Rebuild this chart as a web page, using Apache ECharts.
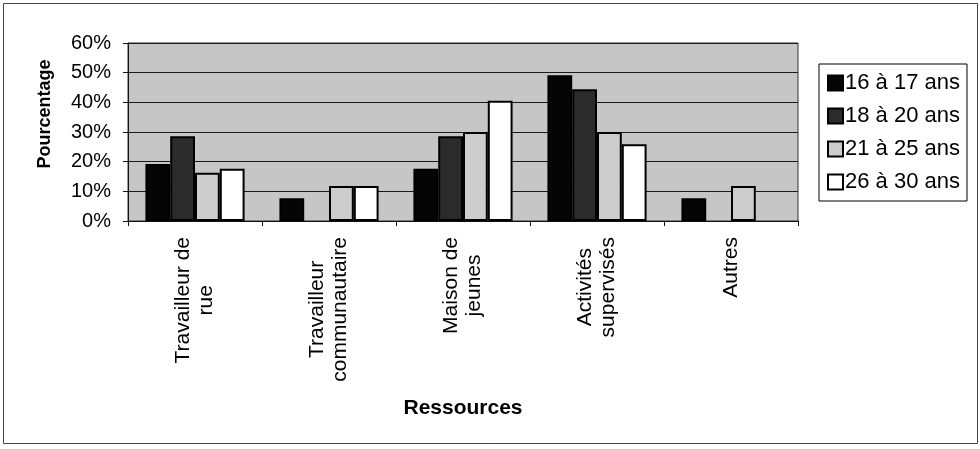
<!DOCTYPE html>
<html>
<head>
<meta charset="utf-8">
<title>Ressources</title>
<script src="https://cdn.jsdelivr.net/npm/echarts@6/dist/echarts.min.js"></script>
<style>
  html, body { margin: 0; padding: 0; background: #fff; }
  #chart { width: 980px; height: 449px; }
</style>
</head>
<body>
<div id="chart"></div>
<script>
  // categories (the \n is where the label wraps)
  var categories = ['Travailleur de\nrue', 'Travailleur\ncommunautaire', 'Maison de\njeunes', 'Activités\nsupervisés', 'Autres'];
  var seriesNames = ['16 à 17 ans', '18 à 20 ans', '21 à 25 ans', '26 à 30 ans'];
  // percentages
  var age16_17 = [19.2, 7.7, 17.6, 49.1, 7.7];
  var age18_20 = [28.6, 0, 28.6, 44.4, 0];
  var age21_25 = [16.3, 11.8, 30.0, 30.0, 11.8];
  var age26_30 = [17.6, 11.8, 40.5, 25.9, 0];
  var yTicks = [0, 10, 20, 30, 40, 50, 60];

  var font = "'Liberation Sans', Arial, sans-serif";
  var fills = ['#050505', '#2b2b2b', '#cdcdcd', '#ffffff'];
  var allData = [age16_17, age18_20, age21_25, age26_30];

  var seriesList = [];
  for (var i = 0; i < allData.length; i++) {
    seriesList.push({
      name: seriesNames[i],
      type: 'bar',
      // a 0% bar gets no outline so nothing shows on the axis
      data: allData[i].map(function (v) {
        return v === 0 ? { value: 0, itemStyle: { borderWidth: 0 } } : v;
      }),
      barGap: '0%',
      barCategoryGap: '26%',
      itemStyle: {
        color: fills[i],
        borderColor: '#000',
        borderWidth: 2
      }
    });
  }

  var chart = echarts.init(document.getElementById('chart'), null, { renderer: 'canvas' });
  var option = {
    animation: false,
    backgroundColor: '#fff',
    textStyle: { fontFamily: font, color: '#000' },
    grid: {
      left: 128,
      right: 182,
      top: 43,
      bottom: 228,
      show: true,
      backgroundColor: '#c6c6c6',
      borderColor: '#333',
      borderWidth: 1
    },
    legend: {
      orient: 'vertical',
      left: 819,
      top: 64,
      padding: [8, 7, 8, 8],
      itemGap: 11,
      itemWidth: 15,
      itemHeight: 15,
      itemStyle: { borderWidth: 2 },
      borderColor: '#000',
      borderWidth: 1,
      backgroundColor: '#fff',
      icon: 'rect',
      textStyle: { fontFamily: font, fontSize: 22, lineHeight: 20, color: '#000', padding: [0, 0, 0, -3] },
      data: seriesNames
    },
    xAxis: {
      type: 'category',
      data: categories,
      name: 'Ressources',
      nameLocation: 'middle',
      nameGap: 177,
      nameTextStyle: { fontFamily: font, fontSize: 21, fontWeight: 'bold', color: '#000' },
      axisLine: { lineStyle: { color: '#111', width: 1 } },
      axisTick: { show: true, length: 5, lineStyle: { color: '#111' } },
      axisLabel: {
        rotate: 90,
        interval: 0,
        margin: 16,
        fontFamily: font,
        fontSize: 21,
        color: '#000',
        formatter: function (v) {
          return v.split('\n').map(function (s) { return '{c|' + s + '}'; }).join('\n');
        },
        rich: {
          c: { align: 'center', fontFamily: font, fontSize: 21, lineHeight: 23, color: '#000' }
        }
      }
    },
    yAxis: {
      type: 'value',
      min: yTicks[0],
      max: yTicks[yTicks.length - 1],
      interval: 10,
      axisLine: { show: true, lineStyle: { color: '#111', width: 1 } },
      axisTick: { show: true, length: 5, lineStyle: { color: '#111' } },
      axisLabel: {
        margin: 17,
        fontFamily: font,
        fontSize: 20,
        color: '#000',
        formatter: '{value}%'
      },
      splitLine: { show: true, lineStyle: { color: '#1a1a1a', width: 1 } }
    },
    graphic: [
      {
        type: 'rect',
        silent: true,
        shape: { x: 3.5, y: 3.5, width: 974, height: 440 },
        style: { fill: 'none', stroke: '#444', lineWidth: 1 }
      },
      {
        type: 'text',
        x: 45,
        y: 114,
        rotation: Math.PI / 2,
        style: {
          text: 'Pourcentage',
          fontFamily: font,
          fontSize: 18,
          fontWeight: 'bold',
          fill: '#000',
          align: 'center',
          verticalAlign: 'middle'
        }
      }
    ],
    series: seriesList
  };
  chart.setOption(option);
</script>
</body>
</html>
